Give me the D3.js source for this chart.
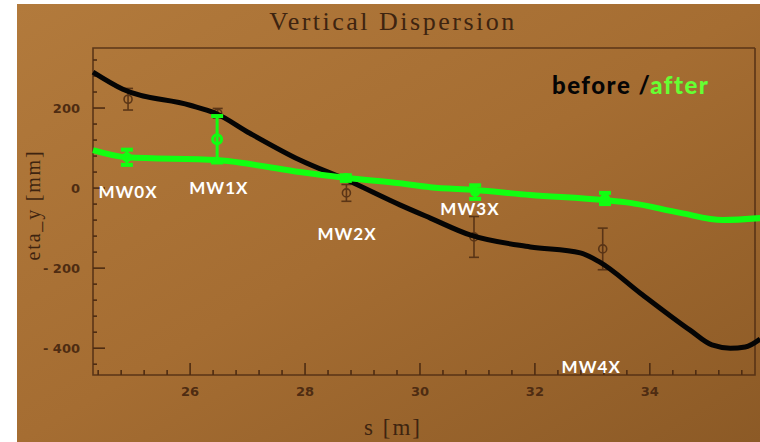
<!DOCTYPE html>
<html><head><meta charset="utf-8">
<script src="https://cdn.jsdelivr.net/npm/d3@7"></script>
<style>html,body{margin:0;padding:0;background:#fff;}svg{display:block;}</style>
</head><body>
<svg id="c" width="760" height="442"></svg>
<script>
// before (black) curve
const sBefore = [24.31,24.83,26.0,26.44,27.04,27.91,28.73,29.65,30.18,30.87,31.92,32.79,33.13,33.83,34.70,35.08,35.40,35.66,35.92];
const etaBefore = [290,247,207,187,137,70,20,-42,-75,-117,-147,-162,-185,-262,-355,-392,-400,-397,-377];
// after (green) curve
const sAfter = [24.31,24.90,26.47,27.04,27.91,28.73,29.65,30.18,30.96,31.92,33.22,33.66,34.53,35.27,35.92];
const etaAfter = [95,77,70,60,40,25,12,2,-5,-17,-30,-37,-62,-80,-75];
// monitors
const monitors = ["MW0X","MW1X","MW2X","MW3X","MW4X"];
const monS = [24.92,26.48,28.72,30.94,33.18];
const measBefore = [222,187,-12,-122,-152];
const errBefore = [27,12,21,51,52];
const measAfter = [77,122,25,-10,-26];
const errAfter = [19,58,7,17,14];
const afterS = [24.90,26.47,28.71,30.96,33.22];
const labelS = [24.92,26.50,28.73,30.87,32.98];
const labelEta = [-26,-14,-130,-67,-462];
const xTicks = [26,28,30,32,34];
const yTicks = [200,0,-200,-400];

const svg = d3.select("#c");
const defs = svg.append("defs");
const g1 = defs.append("linearGradient").attr("id","bg").attr("x1","0").attr("y1","0").attr("x2","1").attr("y2","1");
g1.append("stop").attr("offset","0").attr("stop-color","#b27a3c");
g1.append("stop").attr("offset","0.5").attr("stop-color","#a56d32");
g1.append("stop").attr("offset","1").attr("stop-color","#8c5a26");
svg.append("rect").attr("x",17).attr("y",4).attr("width",743).attr("height",438).attr("fill","url(#bg)");

const x = d3.scaleLinear().domain([24.31,35.83]).range([93,755]);
const y = d3.scaleLinear().domain([-467,350]).range([375,48]);
const ink = "#4e2c12";

// frame
svg.append("path").attr("d",`M${x(35.83)},${y(350)}H${x(24.31)}V${y(-467)}H${x(35.83)}V${y(350)}`)
  .attr("fill","none").attr("stroke",ink).attr("stroke-width",1.6).attr("opacity",0.85);

// axes (inward ticks)
const xMinor = d3.range(24.4,35.83,0.4);
svg.append("g").selectAll("line").data(xMinor).join("line")
  .attr("x1",d=>x(d)).attr("x2",d=>x(d)).attr("y1",y(-467)).attr("y2",d=>y(-467)-(xTicks.some(t=>Math.abs(t-d)<0.01)?12:5))
  .attr("stroke",ink).attr("stroke-width",1.6);
const yMinor = d3.range(-440,350,40);
svg.append("g").selectAll("line").data(yMinor).join("line")
  .attr("y1",d=>y(d)).attr("y2",d=>y(d)).attr("x1",x(24.31)).attr("x2",d=>x(24.31)+(d%200===0?12:4))
  .attr("stroke",ink).attr("stroke-width",1.6);

svg.append("g").selectAll("text").data(xTicks).join("text")
  .attr("x",d=>x(d)).attr("y",396).attr("text-anchor","middle")
  .attr("font-family","DejaVu Sans, sans-serif").attr("font-weight","bold").attr("font-size",13).attr("fill",ink)
  .text(d=>d);
svg.append("g").selectAll("text").data(yTicks).join("text")
  .attr("x",80).attr("y",d=>y(d)+5).attr("text-anchor","end")
  .attr("font-family","DejaVu Sans, sans-serif").attr("font-weight","bold").attr("font-size",13).attr("fill",ink)
  .text(d=>d<0?"- "+Math.abs(d):d);

svg.append("text").attr("x",393).attr("y",30).attr("text-anchor","middle")
  .attr("font-family","Liberation Serif, serif").attr("font-size",26).attr("fill","#3e2410").attr("letter-spacing",2.5)
  .text("Vertical Dispersion");
svg.append("text").attr("x",393).attr("y",435).attr("text-anchor","middle")
  .attr("font-family","Liberation Serif, serif").attr("font-size",23).attr("fill","#3e2410").attr("letter-spacing",2)
  .text("s [m]");
svg.append("text").attr("transform","translate(40,205) rotate(-90)").attr("text-anchor","middle")
  .attr("font-family","Liberation Serif, serif").attr("font-size",20).attr("fill","#3e2410").attr("letter-spacing",1.8)
  .text("eta_y [mm]");

// printed "before" measurements
const pb = svg.append("g").attr("stroke",ink).attr("fill","none").attr("stroke-width",1.6).attr("opacity",0.85);
monS.forEach((s,i)=>{
  const cx = x(s), t = y(measBefore[i]+errBefore[i]), b = y(measBefore[i]-errBefore[i]);
  pb.append("line").attr("x1",cx).attr("x2",cx).attr("y1",t).attr("y2",b);
  pb.append("line").attr("x1",cx-5).attr("x2",cx+5).attr("y1",t).attr("y2",t);
  pb.append("line").attr("x1",cx-5).attr("x2",cx+5).attr("y1",b).attr("y2",b);
  pb.append("circle").attr("cx",cx).attr("cy",y(measBefore[i])).attr("r",4);
});

// curves
const lineB = d3.line().x((d,i)=>x(sBefore[i])).y(d=>y(d)).curve(d3.curveMonotoneX);
const lineA = d3.line().x((d,i)=>x(sAfter[i])).y(d=>y(d)).curve(d3.curveMonotoneX);
svg.append("path").attr("d",lineB(etaBefore)).attr("fill","none").attr("stroke","#050505").attr("stroke-width",5).attr("stroke-linejoin","round");
svg.append("path").attr("d",lineA(etaAfter)).attr("fill","none").attr("stroke","#11ff11").attr("stroke-width",6).attr("stroke-linejoin","round");

// green error bars
const ga = svg.append("g").attr("stroke","#11ff11").attr("stroke-width",3);
afterS.forEach((s,i)=>{
  const cx = x(s), t = y(measAfter[i]+errAfter[i]), b = y(measAfter[i]-errAfter[i]);
  ga.append("line").attr("x1",cx).attr("x2",cx).attr("y1",t).attr("y2",b);
  ga.append("line").attr("x1",cx-6).attr("x2",cx+6).attr("y1",t).attr("y2",t).attr("stroke-width",4);
  ga.append("line").attr("x1",cx-6).attr("x2",cx+6).attr("y1",b).attr("y2",b).attr("stroke-width",4);
  ga.append("circle").attr("cx",cx).attr("cy",y(measAfter[i])).attr("r",i===1?4.5:3.5)
    .attr("fill",i===1?"none":"#11ff11");
});

// monitor labels
svg.append("g").selectAll("text").data(monitors).join("text")
  .attr("x",(d,i)=>x(labelS[i])).attr("y",(d,i)=>y(labelEta[i])).attr("text-anchor","middle")
  .attr("font-family","Comic Sans MS, Lato, sans-serif").attr("font-weight","bold").attr("font-size",17).attr("letter-spacing",1)
  .attr("fill","#ffffff")
  .text(d=>d);

// legend
const lg = svg.append("text").attr("x",552).attr("y",94)
  .attr("font-family","Comic Sans MS, Lato, sans-serif").attr("font-weight","900").attr("font-size",24).attr("letter-spacing",1.5);
lg.append("tspan").attr("fill","#050505").text("before /");
lg.append("tspan").attr("fill","#66ff33").text("after");
</script>
</body></html>
